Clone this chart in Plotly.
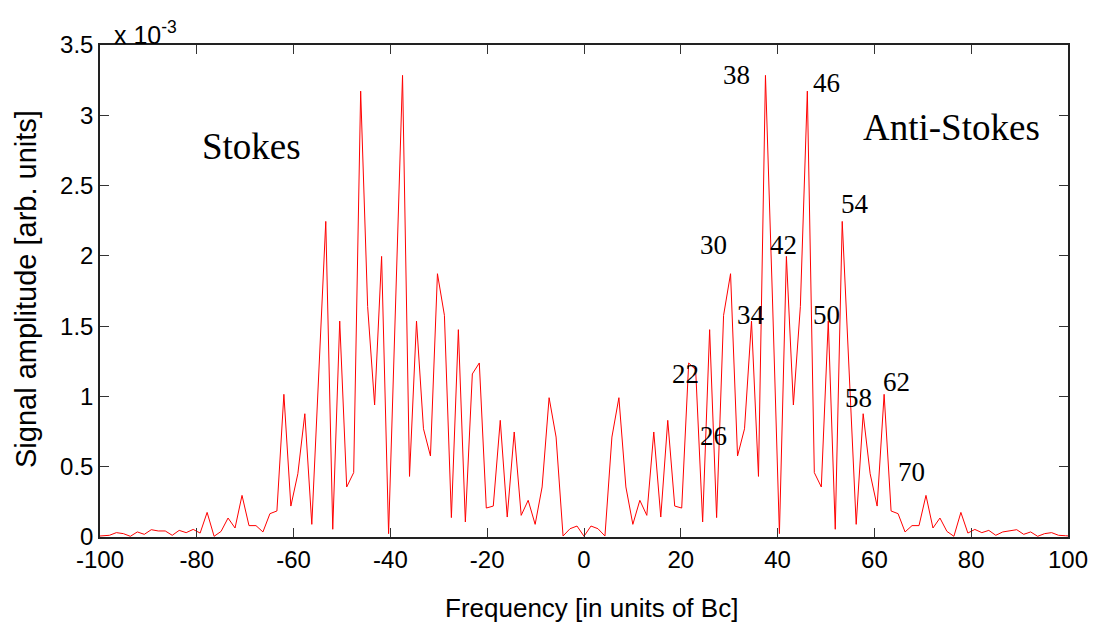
import plotly.graph_objects as go

# Sample grid spacing (in units of Bc)
FREQ_STEP = 1.442
orders = list(range(-70, 71))
frequency = [round(k * FREQ_STEP, 3) for k in orders]

# Signal amplitude, in units of 1e-3 (arb. units)
stokes = [0.005, 0.009, 0.012, 0.031, 0.024, 0.005, 0.036, 0.019, 0.052, 0.043,
          0.043, 0.012, 0.047, 0.031, 0.054, 0.028, 0.175, 0.005, 0.040, 0.135,
          0.064, 0.296, 0.081, 0.081, 0.036, 0.166, 0.185, 1.015, 0.220, 0.450,
          0.877, 0.090, 1.200, 2.245, 0.055, 1.536, 0.356, 0.458, 3.172, 1.640,
          0.939, 1.996, 0.024, 1.700, 3.284, 0.431, 1.536, 0.770, 0.576, 1.873,
          1.577, 0.138, 1.475, 0.107, 1.160, 1.238, 0.206, 0.220, 0.830, 0.142,
          0.747, 0.154, 0.261, 0.090, 0.356, 0.991, 0.711, 0.007, 0.059, 0.078]
center = [0.005]
anti_stokes = [0.078, 0.059, 0.007, 0.711, 0.991, 0.356, 0.090, 0.261, 0.154, 0.747,
               0.142, 0.830, 0.220, 0.206, 1.238, 1.190, 0.107, 1.475, 0.138, 1.577,
               1.873, 0.576, 0.770, 1.536, 0.431, 3.284, 1.700, 0.024, 1.996, 0.939,
               1.640, 3.172, 0.458, 0.356, 1.536, 0.055, 2.245, 1.200, 0.090, 0.877,
               0.450, 0.220, 1.015, 0.185, 0.166, 0.036, 0.081, 0.081, 0.296, 0.064,
               0.135, 0.040, 0.005, 0.175, 0.028, 0.054, 0.031, 0.047, 0.012, 0.036,
               0.043, 0.052, 0.019, 0.036, 0.005, 0.024, 0.031, 0.012, 0.009, 0.005]
amplitude_e3 = stokes + center + anti_stokes

x_ticks = [-100, -80, -60, -40, -20, 0, 20, 40, 60, 80, 100]
x_ticktext = ["-100", "-80", "-60", "-40", "-20", "0", "20", "40", "60", "80", "100"]
y_ticks = [0, 0.5, 1, 1.5, 2, 2.5, 3, 3.5]
y_ticktext = ["0", "0.5", "1", "1.5", "2", "2.5", "3", "3.5"]

order_labels = ["38", "46", "30", "42", "54", "34", "50", "22", "26", "58", "62", "70"]
order_label_pos = [(31.5, 3.29), (50.0, 3.23), (26.8, 2.08), (41.3, 2.08), (56.0, 2.37),
                   (34.5, 1.58), (50.0, 1.58), (21.0, 1.16), (26.7, 0.72), (56.8, 0.99),
                   (64.6, 1.10), (67.7, 0.46)]

fig = go.Figure()
fig.add_trace(go.Scatter(x=frequency, y=amplitude_e3, mode="lines",
                         line=dict(color="#ff0000", width=1), showlegend=False,
                         hoverinfo="skip"))

serif = "Times New Roman, Liberation Serif, serif"
sans = "Arial, Liberation Sans, sans-serif"
annotations = []
for txt, (xx, yy) in zip(order_labels, order_label_pos):
    annotations.append(dict(x=xx, y=yy, xref="x", yref="y", text=txt, showarrow=False,
                            font=dict(family=serif, size=27, color="black"),
                            xanchor="center", yanchor="middle"))
annotations.append(dict(x=-68.6, y=2.78, xref="x", yref="y", text="Stokes", showarrow=False,
                        font=dict(family=serif, size=37, color="black"),
                        xanchor="center", yanchor="middle"))
annotations.append(dict(x=76.0, y=2.91, xref="x", yref="y", text="Anti-Stokes", showarrow=False,
                        font=dict(family=serif, size=37, color="black"),
                        xanchor="center", yanchor="middle"))
annotations.append(dict(x=0.012, y=1.0, xref="paper", yref="paper",
                        text="x 10<sup>-3</sup>", showarrow=False,
                        font=dict(family=sans, size=25, color="black"),
                        xanchor="left", yanchor="bottom", yshift=-6))
# axis titles
annotations.append(dict(x=0.508, y=-0.144, xref="paper", yref="paper",
                        text="Frequency [in units of Bc]", showarrow=False,
                        font=dict(family=sans, size=26, color="black"),
                        xanchor="center", yanchor="middle"))
annotations.append(dict(x=-0.077, y=0.505, xref="paper", yref="paper", textangle=-90,
                        text="Signal amplitude [arb. units]", showarrow=False,
                        font=dict(family=sans, size=29, color="black"),
                        xanchor="center", yanchor="middle"))

fig.update_layout(
    width=1093, height=625,
    margin=dict(l=100, r=25, t=45, b=88),
    paper_bgcolor="white", plot_bgcolor="white",
    font=dict(family=sans, size=22, color="black"),
    annotations=annotations,
    xaxis=dict(range=[-100, 100], tickvals=x_ticks, ticktext=x_ticktext, ticks="inside",
               ticklen=9, tickcolor="#333", tickwidth=1, showline=True, linecolor="#222",
               linewidth=1.5, mirror="ticks", showgrid=False, zeroline=False,
               automargin=False, tickfont=dict(family=sans, size=24)),
    yaxis=dict(range=[0, 3.5], tickvals=y_ticks, ticktext=y_ticktext, ticks="inside",
               ticklen=9, tickcolor="#333", tickwidth=1, showline=True,
               linecolor="#222", linewidth=1.5, mirror="ticks", showgrid=False,
               zeroline=False, automargin=False, tickfont=dict(family=sans, size=24)),
)

fig.write_html("out.html")
